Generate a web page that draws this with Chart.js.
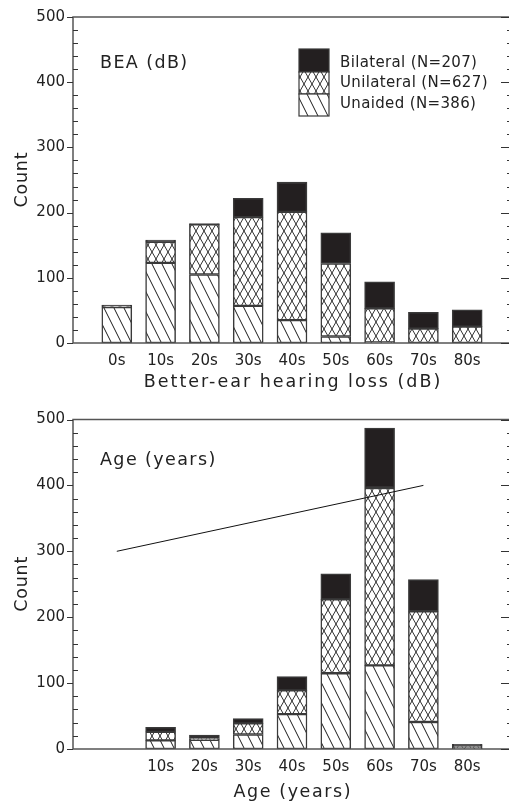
<!DOCTYPE html>
<html><head><meta charset="utf-8">
<script src="https://cdn.jsdelivr.net/npm/chart.js@4.4.1/dist/chart.umd.min.js"></script>
<style>
html,body{margin:0;padding:0;background:#fff;overflow:hidden;width:509px;height:804px;}
#wrap{position:relative;width:509px;height:804px;overflow:hidden;background:#fff;}
.c{position:absolute;left:0;width:520px;}
</style></head><body>
<div id="wrap">
<div class="c" style="top:0;height:400px"><canvas id="c1"></canvas></div>
<div class="c" style="top:400px;height:404px"><canvas id="c2"></canvas></div>
</div>
<script>
// ---- data ----
const beaCategories = ['0s','10s','20s','30s','40s','50s','60s','70s','80s'];
const beaUnaided    = [55, 123, 105, 57, 35, 10, 1, 0, 0];
const beaUnilateral = [2, 32, 77, 136, 166, 112, 52, 22, 25];
const beaBilateral  = [1, 3, 1, 29, 46, 47, 41, 25, 26];

const ageCategories = ['', '10s','20s','30s','40s','50s','60s','70s','80s'];
const ageUnaided    = [0, 13, 14, 22, 53, 115, 127, 41, 1];
const ageUnilateral = [0, 13, 2, 17, 36, 112, 269, 168, 4];
const ageBilateral  = [0, 7, 5, 7, 21, 39, 91, 48, 2];

const ageTrendX = [0, 7];
const ageTrendY = [300, 400];

const yTicks = [0, 100, 200, 300, 400, 500];
const yMinorStep = 20;

const legendLabels = ['Bilateral (N=207)', 'Unilateral (N=627)', 'Unaided (N=386)'];
const yTitle = 'Count';
const FONT = 'DejaVu Sans';
const TXT = '#222';

// ---- patterns ----
function makeHatch() {
  const c = document.createElement('canvas'); c.width = 10; c.height = 20;
  const g = c.getContext('2d');
  g.fillStyle = '#fff'; g.fillRect(0, 0, 10, 20);
  g.strokeStyle = '#1a1a1a'; g.lineWidth = 1;
  for (const off of [-10, 0, 10]) { g.beginPath(); g.moveTo(off, 0); g.lineTo(off + 10, 20); g.stroke(); }
  return g.createPattern(c, 'repeat');
}
function makeCross() {
  const c = document.createElement('canvas'); c.width = 8; c.height = 14;
  const g = c.getContext('2d');
  g.fillStyle = '#fff'; g.fillRect(0, 0, 8, 14);
  g.strokeStyle = '#1a1a1a'; g.lineWidth = 0.9;
  for (const off of [-8, 0, 8]) {
    g.beginPath(); g.moveTo(off, 0); g.lineTo(off + 8, 14); g.stroke();
    g.beginPath(); g.moveTo(off + 8, 0); g.lineTo(off, 14); g.stroke();
  }
  return g.createPattern(c, 'repeat');
}
const HATCH = makeHatch();
const CROSS = makeCross();
const BLACK = '#231f20';
const EDGE = '#3a3a3a';

function spacedText(ctx, text, x, y, spacing, align) {
  ctx.letterSpacing = spacing + 'px';
  const w = ctx.measureText(text).width - spacing;
  ctx.textAlign = 'left';
  const sx = align === 'center' ? x - w / 2 : x;
  ctx.fillText(text, sx, y);
  ctx.letterSpacing = '0px';
}

const framePlugin = {
  id: 'frame',
  afterDraw(chart, args, o) {
    const { ctx, chartArea: a, scales: { y } } = chart;
    ctx.save();
    ctx.strokeStyle = '#555'; ctx.lineWidth = 1.5;
    ctx.strokeRect(a.left, a.top, a.right - a.left, a.bottom - a.top);
    ctx.strokeStyle = '#333'; ctx.lineWidth = 1.2;
    for (let v = y.min; v <= y.max; v += yMinorStep) {
      const py = Math.round(y.getPixelForValue(v)) + 0.5;
      const major = yTicks.includes(v);
      ctx.beginPath();
      if (major) { ctx.moveTo(a.left - 6, py); ctx.lineTo(a.left, py); ctx.moveTo(a.right - 10, py); ctx.lineTo(a.right, py); }
      else { ctx.moveTo(a.left, py); ctx.lineTo(a.left + 5, py); ctx.moveTo(a.right - 4, py); ctx.lineTo(a.right, py); }
      ctx.stroke();
    }
    ctx.fillStyle = TXT;
    ctx.textBaseline = 'alphabetic';
    // panel label
    ctx.font = '17.5px "' + FONT + '"';
    spacedText(ctx, o.label, a.left + 27, a.top + o.labelDy, 1.4, 'left');
    // x axis title
    spacedText(ctx, o.xTitle, (a.left + a.right) / 2, o.xTitleY, o.xSpacing, 'center');
    // y axis title (rotated)
    ctx.save();
    ctx.translate(26.5, (a.top + a.bottom) / 2);
    ctx.rotate(-Math.PI / 2);
    spacedText(ctx, yTitle, 0, 0, 0.8, 'center');
    ctx.restore();
    // legend
    if (o.legend) {
      const lx = a.left + 226, w = 30;
      const rows = [[32, 23, BLACK], [55, 22, CROSS], [77, 22, HATCH]];
      rows.forEach(r => {
        ctx.fillStyle = r[2];
        ctx.fillRect(lx, a.top + r[0], w, r[1]);
        ctx.strokeStyle = EDGE; ctx.lineWidth = 1.2;
        ctx.strokeRect(lx, a.top + r[0], w, r[1]);
      });
      ctx.fillStyle = TXT;
      ctx.font = '15px "' + FONT + '"';
      const ty = [50, 70, 90.5];
      legendLabels.forEach((t, i) => spacedText(ctx, t, lx + 41, a.top + ty[i], 0.35, 'left'));
    }
    ctx.restore();
  }
};

function pts(arr) { return arr.map((v, i) => ({ x: i, y: v })); }

function makeChart(id, cats, un, uni, bil, extra, padTop, xHeight, frameOpts) {
  const datasets = [
    { label: 'Unaided', data: pts(un), backgroundColor: HATCH },
    { label: 'Unilateral', data: pts(uni), backgroundColor: CROSS },
    { label: 'Bilateral', data: pts(bil), backgroundColor: BLACK }
  ].map(d => Object.assign(d, { type: 'bar', borderColor: EDGE, borderWidth: 1.5, borderSkipped: false, barThickness: 30, stack: 'bars' }));
  if (extra) datasets.push(extra);
  return new Chart(document.getElementById(id), {
    type: 'bar',
    data: { datasets },
    options: {
      responsive: true, maintainAspectRatio: false, animation: false,
      layout: { padding: { top: padTop, right: 1, left: 0, bottom: 0 } },
      plugins: { legend: { display: false }, tooltip: { enabled: false }, frame: frameOpts },
      scales: {
        x: {
          type: 'linear', min: -1, max: 9, stacked: true, offset: false,
          grid: { display: false, drawTicks: false }, border: { display: false },
          ticks: { stepSize: 1, autoSkip: false, padding: 9, color: TXT, font: { family: FONT, size: 15 },
            callback: v => (cats[v] !== undefined ? cats[v] : '') },
          afterFit: s => { s.height = xHeight; }
        },
        y: {
          min: 0, max: 500, stacked: true,
          grid: { display: false, drawTicks: false }, border: { display: false },
          ticks: { stepSize: 100, padding: 8, color: TXT, font: { family: FONT, size: 15 } },
          afterFit: s => { s.width = 73; }
        }
      }
    },
    plugins: [framePlugin]
  });
}

makeChart('c1', beaCategories, beaUnaided, beaUnilateral, beaBilateral, null, 14, 57,
  { label: 'BEA (dB)', labelDy: 51, legend: true, xTitle: 'Better-ear hearing loss (dB)', xTitleY: 386.5, xSpacing: 2 });

makeChart('c2', ageCategories, ageUnaided, ageUnilateral, ageBilateral,
  { type: 'line', label: 'trend', data: ageTrendX.map((x, i) => ({ x, y: ageTrendY[i] })),
    borderColor: '#111', borderWidth: 1, pointRadius: 0, stack: 'trend', order: -1, fill: false },
  19.5, 55,
  { label: 'Age (years)', labelDy: 45.5, legend: false, xTitle: 'Age (years)', xTitleY: 396.5, xSpacing: 1.6 });
</script>
</body></html>
